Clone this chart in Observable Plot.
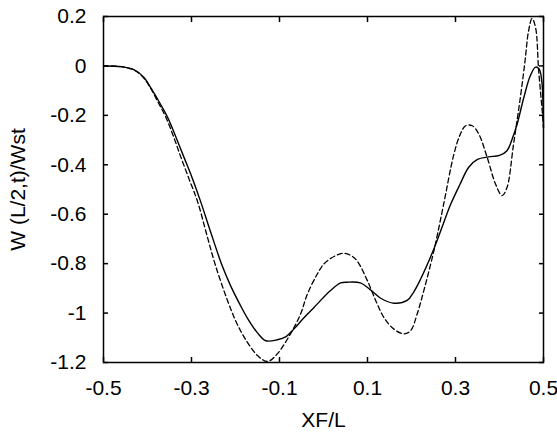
<!DOCTYPE html>
<html>
<head>
<meta charset="utf-8">
<script src="https://cdn.jsdelivr.net/npm/d3@7"></script>
<script src="https://cdn.jsdelivr.net/npm/@observablehq/plot@0.6"></script>
<style>
  html, body { margin: 0; padding: 0; background: #fff; }
  #chart svg { font-family: "Liberation Sans", Arial, sans-serif; }
</style>
</head>
<body>
<div id="chart"></div>
<script>
const solidX = [-0.5,-0.46,-0.43,-0.408,-0.392,-0.372,-0.354,-0.335,-0.317,-0.298,-0.279,-0.255,-0.23,-0.211,-0.19,-0.173,-0.15,-0.131,-0.105,-0.085,-0.067,-0.045,-0.021,0.016,0.039,0.054,0.084,0.106,0.13,0.16,0.19,0.205,0.22,0.251,0.27,0.289,0.31,0.33,0.35,0.375,0.4,0.417,0.43,0.44,0.455,0.47,0.482,0.49,0.496,0.5];
const solidY = [0,-0.003,-0.016,-0.047,-0.09,-0.15,-0.209,-0.29,-0.37,-0.455,-0.55,-0.68,-0.81,-0.89,-0.965,-1.02,-1.08,-1.112,-1.108,-1.095,-1.064,-1.02,-0.976,-0.909,-0.878,-0.875,-0.878,-0.905,-0.94,-0.96,-0.949,-0.915,-0.865,-0.74,-0.65,-0.56,-0.48,-0.41,-0.378,-0.368,-0.362,-0.343,-0.29,-0.236,-0.13,-0.04,-0.005,-0.012,-0.06,-0.25];
const dashX = [-0.5,-0.46,-0.43,-0.408,-0.392,-0.375,-0.358,-0.34,-0.324,-0.305,-0.286,-0.265,-0.245,-0.218,-0.2,-0.18,-0.15,-0.127,-0.105,-0.075,-0.052,-0.037,-0.015,0.001,0.025,0.046,0.065,0.077,0.1,0.12,0.137,0.16,0.183,0.198,0.213,0.228,0.251,0.273,0.296,0.31,0.323,0.338,0.353,0.372,0.391,0.406,0.417,0.432,0.448,0.458,0.466,0.474,0.482,0.489,0.497,0.5];
const dashY = [0,-0.003,-0.017,-0.05,-0.093,-0.15,-0.209,-0.29,-0.37,-0.46,-0.55,-0.685,-0.81,-0.95,-1.03,-1.098,-1.172,-1.196,-1.165,-1.084,-1.003,-0.925,-0.845,-0.801,-0.77,-0.758,-0.77,-0.79,-0.87,-0.955,-1.017,-1.065,-1.084,-1.071,-1.003,-0.909,-0.747,-0.56,-0.36,-0.28,-0.242,-0.242,-0.276,-0.37,-0.478,-0.525,-0.492,-0.316,-0.12,0.02,0.141,0.192,0.155,-0.02,-0.18,-0.25];
const xTicks = [-0.5,-0.3,-0.1,0.1,0.3,0.5];
const yTicks = [-1.2,-1,-0.8,-0.6,-0.4,-0.2,0,0.2];
const xLabel = "XF/L";
const yLabel = "W (L/2,t)/Wst";

const solid = solidX.map((x, i) => ({x, y: solidY[i]}));
const dashed = dashX.map((x, i) => ({x, y: dashY[i]}));
const font = "'Liberation Sans', Arial, sans-serif";

const chart = Plot.plot({
  width: 557,
  height: 433,
  marginLeft: 103,
  marginRight: 14,
  marginTop: 16,
  marginBottom: 71,
  style: {fontSize: "21px", fontFamily: font, color: "#000", background: "#fff"},
  x: {domain: [-0.5, 0.5]},
  y: {domain: [-1.2, 0.2]},
  marks: [
    Plot.frame({stroke: "#000", strokeWidth: 1.5}),
    Plot.axisX({anchor: "bottom", ticks: xTicks, tickSize: -5, tickPadding: 23, tickFormat: d => String(d), fontSize: 21,
      label: xLabel, labelAnchor: "center", labelArrow: "none", labelOffset: 64, strokeWidth: 1.5}),
    Plot.axisX({anchor: "top", ticks: xTicks, tickSize: -5, tickFormat: () => "", label: null, strokeWidth: 1.5}),
    Plot.axisY({anchor: "left", ticks: yTicks, tickSize: -5, tickPadding: 22, tickFormat: d => String(d), fontSize: 21,
      label: yLabel, labelAnchor: "center", labelArrow: "none", labelOffset: 93, strokeWidth: 1.5}),
    Plot.axisY({anchor: "right", ticks: yTicks, tickSize: -5, tickFormat: () => "", label: null, strokeWidth: 1.5}),
    Plot.line(dashed, {x: "x", y: "y", stroke: "#000", strokeWidth: 1.3, strokeDasharray: "5,3", curve: "catmull-rom"}),
    Plot.line(solid, {x: "x", y: "y", stroke: "#000", strokeWidth: 1.4, curve: "catmull-rom"})
  ]
});
document.getElementById("chart").appendChild(chart);
</script>
</body>
</html>
